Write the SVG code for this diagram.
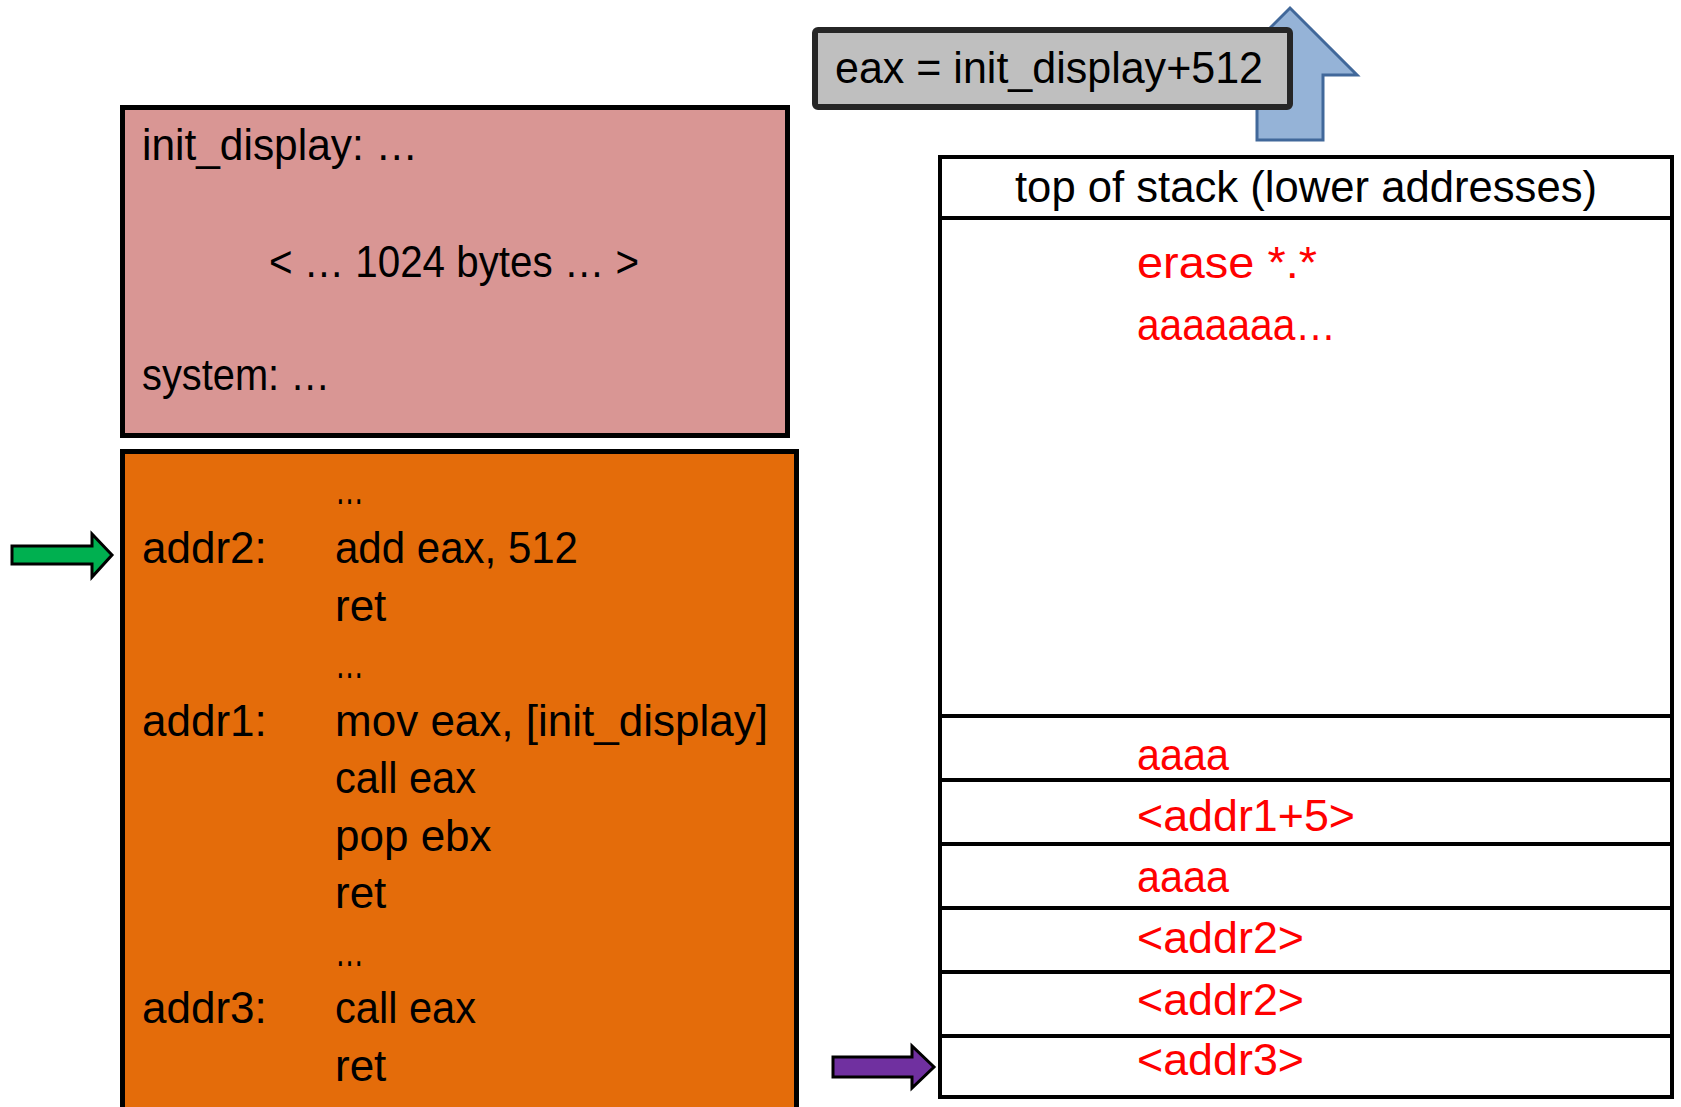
<svg xmlns="http://www.w3.org/2000/svg" width="1681" height="1107" viewBox="0 0 1681 1107">
<defs>
<style>
text{font-family:"Liberation Sans",Arial,sans-serif;font-size:44px;fill:#000}
.red{fill:#ff0000}
.box{stroke:#000;stroke-width:5}
.cell{fill:none;stroke:#000;stroke-width:4}
.arr{stroke:#000;stroke-width:3;stroke-linejoin:miter}
</style>
</defs>
<rect width="1681" height="1107" fill="#fff"/>
<g id="connectors">
<polygon id="blue-up-arrow" points="1257,140 1257,75 1223,75 1290,8 1357,75 1323,75 1323,140" fill="#95b3d7" stroke="#41689a" stroke-width="3"/>
<polygon id="green-arrow" class="arr" points="12,546 92,546 92,534 112,555 92,577 92,564 12,564" fill="#00b050"/>
<polygon id="purple-arrow" class="arr" points="833,1057 912,1057 912,1046 934,1067 912,1088 912,1077 833,1077" fill="#7030a0"/>
</g>
<g id="eax-note">
<rect x="815" y="30" width="475" height="77" rx="3" fill="#bfbfbf" stroke="#262626" stroke-width="6"/>
<text x="835" y="83" textLength="428" lengthAdjust="spacingAndGlyphs">eax = init_display+512</text>
</g>
<g id="libc-block">
<rect class="box" x="122.5" y="107.5" width="665" height="328" fill="#d99694"/>
<text x="142" y="160" textLength="276" lengthAdjust="spacingAndGlyphs">init_display: …</text>
<text x="269" y="277" textLength="370" lengthAdjust="spacingAndGlyphs">&lt; … 1024 bytes … &gt;</text>
<text x="142" y="390" textLength="188" lengthAdjust="spacingAndGlyphs">system: …</text>
</g>
<g id="code-block">
<rect class="box" x="122.5" y="451.5" width="674" height="700" fill="#e46c0a"/>
<text x="335" y="504" textLength="29" lengthAdjust="spacingAndGlyphs">…</text>
<text x="142" y="563">addr2:</text>
<text x="335" y="563" textLength="243" lengthAdjust="spacingAndGlyphs">add eax, 512</text>
<text x="335" y="620.5">ret</text>
<text x="335" y="678" textLength="29" lengthAdjust="spacingAndGlyphs">…</text>
<text x="142" y="735.5">addr1:</text>
<text x="335" y="735.5" textLength="433" lengthAdjust="spacingAndGlyphs">mov eax, [init_display]</text>
<text x="335" y="793" textLength="141" lengthAdjust="spacingAndGlyphs">call eax</text>
<text x="335" y="850.5">pop ebx</text>
<text x="335" y="908">ret</text>
<text x="335" y="965.5" textLength="29" lengthAdjust="spacingAndGlyphs">…</text>
<text x="142" y="1023">addr3:</text>
<text x="335" y="1023" textLength="141" lengthAdjust="spacingAndGlyphs">call eax</text>
<text x="335" y="1080.5">ret</text>
</g>
<g id="stack">
<rect class="cell" x="940" y="157" width="732" height="940" fill="#fff"/>
<line class="cell" x1="940" y1="218" x2="1672" y2="218"/>
<text x="1015" y="202" textLength="582" lengthAdjust="spacingAndGlyphs">top of stack (lower addresses)</text>
<text class="red" x="1137" y="278" textLength="180" lengthAdjust="spacingAndGlyphs">erase *.*</text>
<text class="red" x="1137" y="340" textLength="199" lengthAdjust="spacingAndGlyphs">aaaaaaa…</text>
<line class="cell" x1="940" y1="716" x2="1672" y2="716"/>
<line class="cell" x1="940" y1="780" x2="1672" y2="780"/>
<line class="cell" x1="940" y1="844" x2="1672" y2="844"/>
<line class="cell" x1="940" y1="908" x2="1672" y2="908"/>
<line class="cell" x1="940" y1="972" x2="1672" y2="972"/>
<line class="cell" x1="940" y1="1036" x2="1672" y2="1036"/>
<text class="red" x="1137" y="770" textLength="92" lengthAdjust="spacingAndGlyphs">aaaa</text>
<text class="red" x="1137" y="831" textLength="218" lengthAdjust="spacingAndGlyphs">&lt;addr1+5&gt;</text>
<text class="red" x="1137" y="892" textLength="92" lengthAdjust="spacingAndGlyphs">aaaa</text>
<text class="red" x="1137" y="953" textLength="167" lengthAdjust="spacingAndGlyphs">&lt;addr2&gt;</text>
<text class="red" x="1137" y="1015" textLength="167" lengthAdjust="spacingAndGlyphs">&lt;addr2&gt;</text>
<text class="red" x="1137" y="1075" textLength="167" lengthAdjust="spacingAndGlyphs">&lt;addr3&gt;</text>
</g>
</svg>
